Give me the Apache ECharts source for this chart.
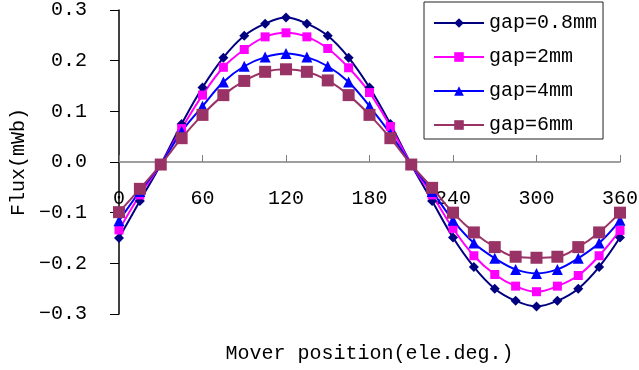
<!DOCTYPE html>
<html>
<head>
<meta charset="utf-8">
<script src="https://cdn.jsdelivr.net/npm/echarts@6/dist/echarts.min.js"></script>
<style>
  html, body { margin: 0; padding: 0; background: #fff; }
  #chart { width: 639px; height: 370px; }
</style>
</head>
<body>
<div id="chart"></div>
<script>
// mover position (electrical degrees)
const positions = [0, 15, 30, 45, 60, 75, 90, 105, 120, 135, 150, 165, 180,
  195, 210, 225, 240, 255, 270, 285, 300, 315, 330, 345, 360];

// flux (mWb) for each air gap
const gap08 = [-0.150, -0.077, -0.005, 0.075, 0.147, 0.206, 0.249, 0.273, 0.285,
  0.273, 0.249, 0.206, 0.147, 0.075, -0.005, -0.077, -0.149, -0.207, -0.250,
  -0.274, -0.285, -0.274, -0.250, -0.207, -0.149];
const gap2 = [-0.134, -0.065, -0.005, 0.066, 0.132, 0.187, 0.222, 0.247, 0.255,
  0.247, 0.224, 0.186, 0.137, 0.070, -0.005, -0.065, -0.131, -0.185, -0.222,
  -0.245, -0.256, -0.245, -0.224, -0.185, -0.135];
const gap4 = [-0.116, -0.058, -0.005, 0.060, 0.110, 0.158, 0.189, 0.207, 0.214,
  0.207, 0.189, 0.158, 0.110, 0.056, -0.005, -0.058, -0.115, -0.160, -0.190,
  -0.212, -0.220, -0.212, -0.190, -0.160, -0.115];
const gap6 = [-0.099, -0.053, -0.005, 0.047, 0.093, 0.132, 0.160, 0.178, 0.183,
  0.178, 0.161, 0.132, 0.093, 0.047, -0.005, -0.051, -0.100, -0.139, -0.168,
  -0.187, -0.189, -0.187, -0.168, -0.139, -0.100];

const seriesNames = ['gap=0.8mm', 'gap=2mm', 'gap=4mm', 'gap=6mm'];
const xTicks = [0, 60, 120, 180, 240, 300, 360];

const font = '"Liberation Mono", monospace';

const chart = echarts.init(document.getElementById('chart'));

const pairs = (ys) => positions.map((x, i) => [x, ys[i]]);

const makeSeries = (name, ys, color, symbol, size) => ({
  name: name,
  type: 'line',
  data: pairs(ys),
  smooth: 0.4,
  symbol: symbol,
  symbolSize: size,
  showSymbol: true,
  lineStyle: { color: color, width: 2 },
  itemStyle: { color: color },
  emphasis: { disabled: true },
});

chart.setOption({
  animation: false,
  backgroundColor: '#fff',
  grid: { left: 119, right: 19, top: 10, bottom: 56, containLabel: false, outerBoundsMode: 'none' },
  legend: {
    orient: 'vertical',
    left: 424,
    top: 2,
    padding: [11, 6, 4, 9],
    itemWidth: 50,
    itemHeight: 12,
    itemGap: 14,
    borderColor: '#222',
    borderWidth: 1,
    backgroundColor: '#fff',
    textStyle: { fontFamily: font, fontSize: 20, color: '#000' },
    data: seriesNames,
  },
  xAxis: {
    type: 'value',
    min: 0,
    max: 360,
    interval: 60,
    name: 'Mover position(ele.deg.)',
    nameLocation: 'middle',
    nameGap: 30,
    nameMoveOverlap: false,
    nameTextStyle: { fontFamily: font, fontSize: 20, color: '#000' },
    axisLine: { onZero: true, lineStyle: { color: '#808080', width: 1.5 } },
    axisTick: { inside: true, length: 7, lineStyle: { color: '#808080' } },
    axisLabel: {
      margin: -125,
      fontFamily: font,
      fontSize: 20,
      color: '#000',
      formatter: (v) => (xTicks.includes(v) ? String(v) : ''),
    },
    splitLine: { show: false },
  },
  yAxis: {
    type: 'value',
    min: -0.3,
    max: 0.3,
    interval: 0.1,
    name: 'Flux(mWb)',
    nameLocation: 'middle',
    nameRotate: 90,
    nameGap: 90,
    nameMoveOverlap: false,
    nameTextStyle: { fontFamily: font, fontSize: 20, color: '#000' },
    axisLine: { show: true, lineStyle: { color: '#000', width: 1.5 } },
    axisTick: { show: true, length: 9, lineStyle: { color: '#000' } },
    axisLabel: {
      margin: 32,
      fontFamily: font,
      fontSize: 20,
      color: '#000',
      formatter: (v) => (v < 0 ? '\u2212' : '') + Math.abs(v).toFixed(1),
    },
    splitLine: { show: false },
  },
  series: [
    makeSeries(seriesNames[0], gap08, '#000080', 'diamond', 10),
    makeSeries(seriesNames[1], gap2, '#ff00ff', 'rect', 9),
    makeSeries(seriesNames[2], gap4, '#0000ff', 'triangle', 11),
    makeSeries(seriesNames[3], gap6, '#993366', 'rect', 12),
  ],
});
</script>
</body>
</html>
